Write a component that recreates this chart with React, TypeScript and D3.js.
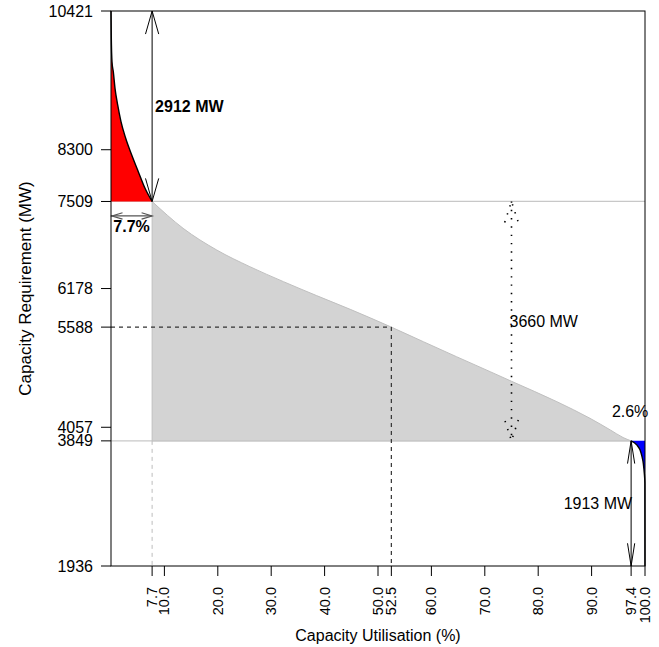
import React from "react";
import * as d3 from "d3";

// Load duration curve, split into three regimes
const peakX = [0, 0.05, 0.19, 0.43, 0.75, 1.25, 1.87, 2.75, 3.88, 5.11, 6.37, 7.7];
const peakY = [10421, 10050, 9641, 9493, 9239, 8984, 8729, 8475, 8220, 7965, 7710, 7509];

const midX = [7.7, 13.5, 19.8, 26.0, 32.3, 38.5, 44.8, 52.5, 58.5, 64.7, 71.0, 75.0, 83.5, 89.7, 93.5, 95.9, 97.4];
const midY = [7509, 7099, 6767, 6512, 6283, 6070, 5860, 5588, 5365, 5136, 4907, 4760, 4448, 4194, 4016, 3900, 3849];

const baseX = [97.4, 98.45, 99.06, 99.44, 99.68, 99.87, 99.98, 100];
const baseY = [3849, 3788, 3712, 3607, 3506, 3353, 3205, 1936];

// Axis ticks
const yTicks = [1936, 3849, 4057, 5588, 6178, 7509, 8300, 10421];
const xTicks = [7.7, 10, 20, 30, 40, 50, 52.5, 60, 70, 80, 90, 97.4, 100];

// Thresholds and markers
const maxLoad = 10421;
const minLoad = 1936;
const upperLoad = 7509;
const lowerLoad = 3849;
const upperShare = 7.7;
const lowerShare = 97.4;
const markerPoint = [52.5, 5588];
const spanArrowX = 75;

const W = 659;
const H = 647;
const M = { left: 111, top: 11, right: 14, bottom: 81 };
const FONT = "'Liberation Sans', Arial, Helvetica, sans-serif";

function head(tx: number, ty: number, dx: number, dy: number, len: number, angDeg: number) {
  // dx,dy: unit vector pointing from the tip back along the shaft
  const a = (angDeg * Math.PI) / 180;
  const c = Math.cos(a), s = Math.sin(a);
  const r1x = dx * c - dy * s, r1y = dx * s + dy * c;
  const r2x = dx * c + dy * s, r2y = -dx * s + dy * c;
  return `M${tx + r1x * len},${ty + r1y * len}L${tx},${ty}L${tx + r2x * len},${ty + r2y * len}`;
}

export default function App() {
  const x = d3.scaleLinear().domain([0, 100]).range([M.left, W - M.right]);
  const y = d3.scaleLinear().domain([minLoad, maxLoad]).range([H - M.bottom, M.top]);

  const curve = d3
    .line<[number, number]>()
    .x((d) => x(d[0]))
    .y((d) => y(d[1]))
    .curve(d3.curveMonotoneX);

  const peakPts = peakX.map((v, i) => [v, peakY[i]] as [number, number]);
  const midPts = midX.map((v, i) => [v, midY[i]] as [number, number]);
  const basePts = baseX.map((v, i) => [v, baseY[i]] as [number, number]);

  const peakArea = curve(peakPts) + `L${x(0)},${y(upperLoad)}Z`;
  const midArea = curve(midPts) + `L${x(lowerShare)},${y(lowerLoad)}L${x(upperShare)},${y(lowerLoad)}Z`;
  const baseArea = curve(basePts) + `L${x(100)},${y(lowerLoad)}Z`;

  const x0 = x(0), x1 = x(100), yTop = y(maxLoad), yBot = y(minLoad);
  const xu = x(upperShare), xl = x(lowerShare), xs = x(spanArrowX);
  const yu = y(upperLoad), yl = y(lowerLoad);

  const fmt = d3.format(".1f");

  return (
    <svg width={W} height={H} style={{ position: "absolute", left: 0, top: 0, background: "#fff" }} fontFamily={FONT}>
      {/* reference lines */}
      <line x1={x0} x2={x1} y1={yu} y2={yu} stroke="#c8c8c8" strokeWidth={1.2} />
      <line x1={x0} x2={xl} y1={yl} y2={yl} stroke="#c8c8c8" strokeWidth={1.2} />

      {/* regime areas */}
      <path d={midArea} fill="#d3d3d3" stroke="#c0c0c0" strokeWidth={1} />
      <path d={peakArea} fill="#ff0000" stroke="none" />
      <path d={curve(peakPts) || ""} fill="none" stroke="#000" strokeWidth={1.4} />
      <path d={baseArea} fill="#0000ff" stroke="none" />
      <path d={curve(basePts) || ""} fill="none" stroke="#000" strokeWidth={1.4} />

      {/* guides */}
      <line x1={xu} x2={xu} y1={yl} y2={yBot} stroke="#bdbdbd" strokeDasharray="4,4" />
      <line x1={x0} x2={x(markerPoint[0])} y1={y(markerPoint[1])} y2={y(markerPoint[1])} stroke="#333" strokeWidth={1.2} strokeDasharray="4,4" />
      <line x1={x(markerPoint[0])} x2={x(markerPoint[0])} y1={y(markerPoint[1])} y2={yBot} stroke="#333" strokeWidth={1.2} strokeDasharray="4,4" />

      {/* peak span arrow */}
      <g stroke="#000" strokeWidth={1} fill="none">
        <line x1={xu} x2={xu} y1={yTop} y2={yu} />
        <path d={head(xu, yTop, 0, 1, 24, 16)} />
        <path d={head(xu, yu, 0, -1, 24, 16)} />
      </g>
      <text x={xu + 3} y={(yTop + yu) / 2} dy="0.35em" fontSize={16} fontWeight="bold">
        {`${maxLoad - upperLoad} MW`}
      </text>

      {/* peak share arrow */}
      <g stroke="#555" strokeWidth={1.2} fill="none">
        <line x1={x0} x2={xu} y1={yu + 14.5} y2={yu + 14.5} />
        <path d={head(x0 + 1, yu + 14.5, 1, 0, 11, 17)} />
        <path d={head(xu, yu + 14.5, -1, 0, 11, 17)} />
      </g>
      <text x={(x0 + xu) / 2} y={yu + 31} fontSize={16} fontWeight="bold" textAnchor="middle">
        {`${upperShare}%`}
      </text>

      {/* intermediate span arrow (dotted) */}
      <g stroke="#000" strokeWidth={1.6} fill="none" strokeDasharray="1.4,6.9">
        <line x1={xs} x2={xs} y1={yu} y2={yl} />
        <path d={head(xs, yu, 0, 1, 22, 18)} />
        <path d={head(xs, yl, 0, -1, 22, 18)} />
      </g>
      <text x={xs - 2} y={(yu + yl) / 2} dy="0.35em" fontSize={16}>
        {`${upperLoad - lowerLoad} MW`}
      </text>

      {/* base span arrow */}
      <g stroke="#000" strokeWidth={1} fill="none">
        <line x1={xl} x2={xl} y1={yl} y2={yBot} />
        <path d={head(xl, yl, 0, 1, 23, 9)} />
        <path d={head(xl, yBot, 0, -1, 23, 9)} />
      </g>
      <text x={xl + 1} y={(yl + yBot) / 2} dy="0.35em" fontSize={16} textAnchor="end">
        {`${lowerLoad - minLoad} MW`}
      </text>
      <text x={xl - 1} y={yl - 24} fontSize={16} textAnchor="middle">
        {`${fmt(100 - lowerShare)}%`}
      </text>

      {/* frame */}
      <rect x={x0} y={yTop} width={x1 - x0} height={yBot - yTop} fill="none" stroke="#000" strokeWidth={1} />

      {/* y axis */}
      <g fontSize={16}>
        {yTicks.map((t) => (
          <g key={t}>
            <line x1={x0 - 10} x2={x0} y1={y(t)} y2={y(t)} stroke="#000" />
            <text x={x0 - 18} y={y(t)} dy="0.35em" textAnchor="end">
              {t}
            </text>
          </g>
        ))}
      </g>

      {/* x axis */}
      <g fontSize={14.5}>
        {xTicks.map((t) => (
          <g key={t}>
            <line x1={x(t)} x2={x(t)} y1={yBot} y2={yBot + 10} stroke="#000" />
            <text transform={`translate(${x(t)},${yBot + 21}) rotate(-90)`} dy="0.35em" textAnchor="end">
              {fmt(t)}
            </text>
          </g>
        ))}
      </g>

      <text transform={`translate(31,${(yTop + yBot) / 2}) rotate(-90)`} textAnchor="middle" fontSize={17}>
        Capacity Requirement (MW)
      </text>
      <text x={(x0 + x1) / 2} y={641} textAnchor="middle" fontSize={16}>
        Capacity Utilisation (%)
      </text>
    </svg>
  );
}
